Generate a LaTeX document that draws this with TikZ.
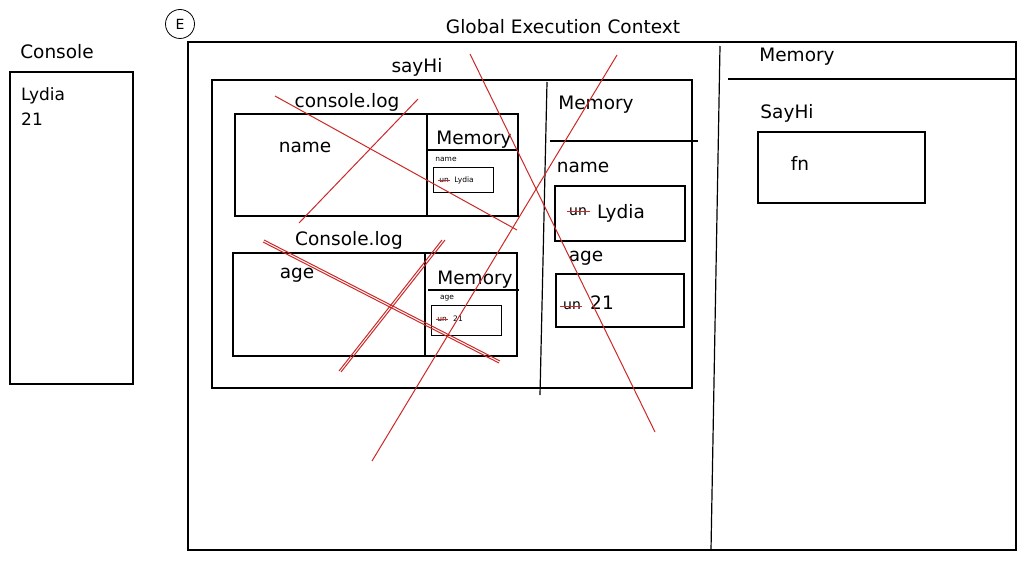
\documentclass[tikz,border=0pt]{standalone}
\usepackage{fontspec}
\setmainfont{DejaVu Sans}
\begin{document}
\begin{tikzpicture}[x=1pt,y=-1pt,
  box/.style={draw, line width=1.1pt, inner sep=0pt, outer sep=0pt, anchor=north west},
  rule/.style={line width=1.2pt},
  lbl/.style={font=\fontsize{18.5}{20}\selectfont, inner sep=0pt},
  sml/.style={font=\fontsize{7.5}{8}\selectfont, inner sep=0pt},
  cross/.style={draw={rgb,255:red,205;green,40;blue,40}, line width=1pt},
  strk/.style={draw={rgb,255:red,205;green,40;blue,40}, line width=1pt}]
\useasboundingbox[fill=white] (0,0) rectangle (1027,561);

% Console
\node[lbl] (consolelbl) at (57,52) {Console};
\node[box, minimum width=123, minimum height=312] (console) at (10,72) {};
\node[lbl, anchor=north west, align=left, font=\fontsize{17}{25}\selectfont] (out) at (21,87) {Lydia\\21};

% E marker
\node[draw, circle, minimum size=29, inner sep=0pt, line width=0.8pt, font=\fontsize{14}{15}\selectfont] (e) at (180,24) {E};

% Global execution context
\node[lbl] (gectitle) at (563,27) {Global Execution Context};
\node[box, minimum width=828, minimum height=508] (gec) at (188,42) {};
\draw[rule] (720,46) -- (711,550);
\node[lbl] (gmem) at (797,57) {Memory};
\draw[rule] (728,79) -- (1015,79);
\node[lbl] (sayhilbl) at (787,113) {SayHi};
\node[box, minimum width=167, minimum height=71] (fnbox) at (758,132) {};
\node[lbl] (fn) at (800,163) {fn};

% sayHi context
\node[lbl] (sayhi) at (417,67) {sayHi};
\node[box, minimum width=480, minimum height=308] (sayhibox) at (212,80) {};
\draw[rule] (547,82) -- (540,395);
\node[lbl] (smem) at (596,105) {Memory};
\draw[rule] (550,141) -- (698,141);
\node[lbl] (sname) at (583,167) {name};
\node[box, minimum width=130, minimum height=55] (snamebox) at (555,186) {};
\node[lbl, font=\fontsize{14}{15}\selectfont] (sun1) at (578,212) {un};
\draw[strk] ([xshift=-2pt]sun1.west) -- ([xshift=3pt]sun1.east);
\node[lbl] (slydia) at (621,213) {Lydia};
\node[lbl] (sage) at (586,258) {age};
\node[box, minimum width=128, minimum height=53] (sagebox) at (556,274) {};
\node[lbl, font=\fontsize{14}{15}\selectfont] (sun2) at (572,306) {un};
\draw[strk] ([xshift=-3pt]sun2.west) -- ([xshift=1pt]sun2.east);
\node[lbl] (s21) at (602,303) {21};

% first console.log
\node[lbl] (cl1) at (347,102) {console.log};
\node[box, minimum width=283, minimum height=102] (cl1box) at (235,114) {};
\draw[rule] (427,114) -- (427,216);
\node[lbl] (cl1name) at (305,147) {name};
\node[lbl] (cl1mem) at (474,140) {Memory};
\draw[rule] (428,150) -- (519,150);
\node[sml] (cl1sname) at (446,159) {name};
\node[box, minimum width=60, minimum height=25, line width=0.9pt] (cl1sbox) at (433,167) {};
\node[sml] (cl1un) at (444,180) {un};
\draw[strk, line width=0.8pt] ([xshift=-1pt]cl1un.west) -- ([xshift=1pt]cl1un.east);
\node[sml] (cl1ly) at (464,180) {Lydia};

% second console.log
\node[lbl] (cl2) at (349,240) {Console.log};
\node[box, minimum width=284, minimum height=103] (cl2box) at (233,253) {};
\draw[rule] (425,253) -- (425,356);
\node[lbl] (cl2age) at (297,275) {age};
\node[lbl] (cl2mem) at (475,280) {Memory};
\draw[rule] (428,290) -- (519,290);
\node[sml] (cl2sage) at (447,298) {age};
\node[box, minimum width=70, minimum height=30, line width=0.9pt] (cl2sbox) at (431,305) {};
\node[sml] (cl2un) at (442,319) {un};
\draw[strk, line width=0.8pt] ([xshift=-1pt]cl2un.west) -- ([xshift=1pt]cl2un.east);
\node[sml] (cl2v) at (458,319) {21};

% red crossing lines
\draw[cross] (275,96) -- (517,230);
\draw[cross] (418,99) -- (299,223);
\draw[cross] (263,242) -- (499,363);
\draw[cross] (264,240) -- (500,361);
\draw[cross] (445,240) -- (341,372);
\draw[cross] (442,240) -- (339,371);
\draw[cross] (617,55) -- (372,461);
\draw[cross] (470,54) -- (655,432);
\end{tikzpicture}
\end{document}
